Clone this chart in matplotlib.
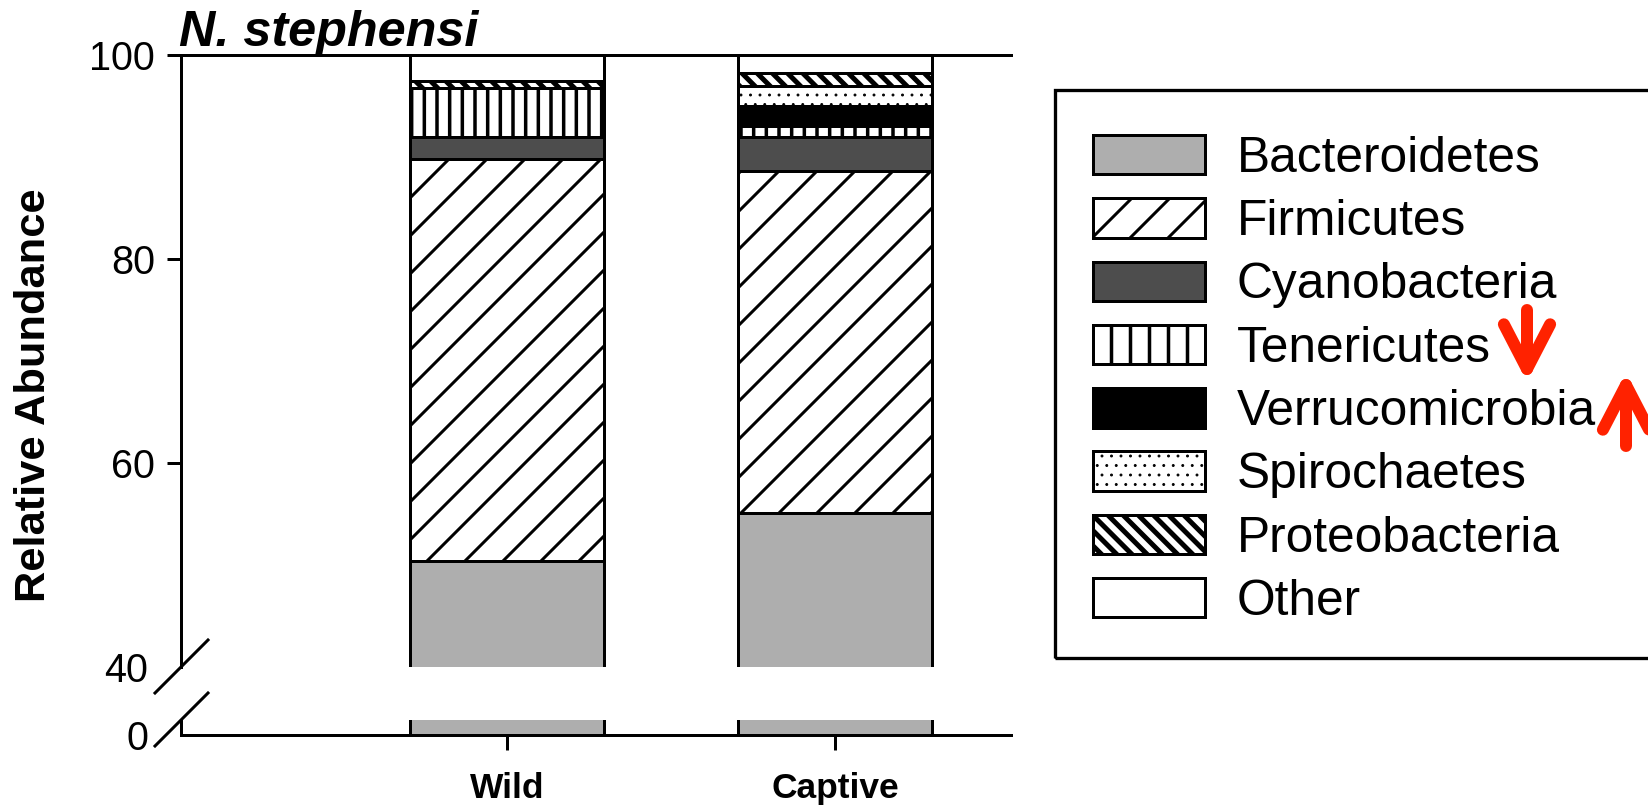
import numpy as np
import matplotlib
matplotlib.use("Agg")
import matplotlib.pyplot as plt
from matplotlib.patches import Rectangle
from matplotlib.lines import Line2D

# ---- data -------------------------------------------------------------
groups = ["Wild", "Captive"]
phyla = ["Bacteroidetes", "Firmicutes", "Cyanobacteria", "Tenericutes",
         "Verrucomicrobia", "Spirochaetes", "Proteobacteria", "Other"]

bacteroidetes = [50.4, 55.1]
firmicutes = [39.4, 33.5]
cyanobacteria = [2.2, 3.4]
tenericutes = [4.8, 1.0]
verrucomicrobia = [0.0, 2.0]
spirochaetes = [0.0, 2.0]
proteobacteria = [0.7, 1.2]
other = [2.5, 1.8]

series = [bacteroidetes, firmicutes, cyanobacteria, tenericutes,
          verrucomicrobia, spirochaetes, proteobacteria, other]

top_ticks = [40, 60, 80, 100]
bottom_ticks = [0]

# ---- styling ------------------------------------------------------------
D = 228                      # dots per inch (sets hatch spacing)
W, H = 1648, 806
PT = 72.0 / D                # points per pixel

# (face colour, bar hatch, legend hatch, hatch line width in pixels)
styles = [
    ("#aeaeae", None, None, 1.0),
    ("white", "//", "//", 3.0),
    ("#4d4d4d", None, None, 1.0),
    ("white", "|||", "||", 3.5),
    ("black", None, None, 1.0),
    ("white", "....", "....", 1.0),
    ("white", "\\" * 5, "\\" * 5, 5.0),
    ("white", None, None, 1.0),
]

plt.rcParams["font.family"] = ["Liberation Sans", "DejaVu Sans"]
plt.rcParams["hatch.color"] = "black"

fig = plt.figure(figsize=(W / D, H / D), dpi=D)


def fx(px):
    return px / W


def fy(py):
    return 1.0 - py / H


x_left, x_right = 181, 1011
ax_top = fig.add_axes([fx(x_left), fy(667), (x_right - x_left) / W, (667 - 55) / H])
ax_bot = fig.add_axes([fx(x_left), fy(735), (x_right - x_left) / W, (735 - 720) / H])

x = np.arange(len(groups))
bar_w = 0.594
edge_lw = 3.0 * PT


def set_hlw(patch, hlw):
    if hasattr(patch, "set_hatch_linewidth"):
        patch.set_hatch_linewidth(hlw * PT)


for ax in (ax_top, ax_bot):
    bottom = np.zeros(len(groups))
    for vals, (fc, hatch, _, hlw), name in zip(series, styles, phyla):
        vals = np.asarray(vals, dtype=float)
        with plt.rc_context({"hatch.linewidth": hlw * PT}):
            bars = ax.bar(x, vals, bar_w, bottom=bottom, color=fc,
                          edgecolor="black", linewidth=edge_lw,
                          hatch=hatch, label=name)
        for b in bars:
            set_hlw(b, hlw)
        bottom = bottom + vals

xlim = (-0.994, 1.537)
for ax in (ax_top, ax_bot):
    ax.set_xlim(*xlim)
    ax.spines["right"].set_visible(False)
    for s in ax.spines.values():
        s.set_linewidth(edge_lw)

ax_top.set_ylim(40, 100)
ax_bot.set_ylim(0, 15 / 10.2)

ax_top.spines["bottom"].set_visible(False)
ax_bot.spines["top"].set_visible(False)

tick_kw = dict(direction="out", length=14 * PT, width=edge_lw, pad=12 * PT,
               labelsize=12.5)
ax_top.set_yticks(top_ticks)
ax_top.set_yticklabels([str(t) for t in top_ticks])
ax_top.tick_params(axis="y", **tick_kw)
ax_top.tick_params(axis="x", bottom=False, labelbottom=False)

ax_bot.set_yticks(bottom_ticks)
ax_bot.set_yticklabels([str(t) for t in bottom_ticks])
ax_bot.tick_params(axis="y", **tick_kw)

# the labels at the break carry no tick mark
for tk in (ax_top.yaxis.get_major_ticks()[0], ax_bot.yaxis.get_major_ticks()[0]):
    tk.tick1line.set_visible(False)
    tk.set_pad(19 * PT)

ax_bot.set_xticks(x)
ax_bot.set_xticklabels(groups, fontsize=11.2, fontweight="bold")
ax_bot.tick_params(axis="x", direction="out", length=15 * PT, width=edge_lw,
                   pad=22 * PT)

# axis label and title
ax_top.set_ylabel("Relative Abundance", fontsize=13.7, fontweight="bold")
ax_top.yaxis.label.set_va("center")
ax_top.yaxis.set_label_coords((34 - x_left) / (x_right - x_left),
                              1 - (395 - 55) / (667 - 55))

fig.text(fx(179), fy(46), "N. stephensi", fontsize=15.9, fontweight="bold",
         fontstyle="italic", ha="left", va="baseline")

# axis-break slashes
for (x0, y0, x1, y1) in [(155, 693, 208, 640), (155, 746, 208, 693)]:
    fig.add_artist(Line2D([fx(x0), fx(x1)], [fy(y0), fy(y1)],
                          color="black", lw=edge_lw,
                          transform=fig.transFigure))

# legend with its own frame
fig.add_artist(Rectangle((fx(1055), fy(658)), (1700 - 1055) / W, (658 - 90) / H,
                         fill=False, edgecolor="black", lw=edge_lw * 1.1,
                         transform=fig.transFigure))

proxies = []
for (fc, _, lhatch, hlw) in styles:
    with plt.rc_context({"hatch.linewidth": hlw * PT}):
        p = Rectangle((0, 0), 1, 1, facecolor=fc, edgecolor="black",
                      linewidth=edge_lw, hatch=lhatch)
    set_hlw(p, hlw)
    proxies.append(p)

leg = ax_top.legend(proxies, phyla, loc="upper left",
                    bbox_to_anchor=(fx(1093), fy(135)),
                    bbox_transform=fig.transFigure, frameon=False,
                    borderpad=0, borderaxespad=0, handlelength=2.25,
                    handleheight=0.84, handletextpad=0.64, labelspacing=0.33,
                    prop={"size": 15.7})
for lh, (_, _, _, hlw) in zip(leg.legend_handles, styles):
    set_hlw(lh, hlw)
    lh.set_linewidth(edge_lw)

# red trend arrows beside the legend entries
arrow_kw = dict(arrowstyle="->,head_length=14.1,head_width=7.3",
                mutation_scale=1, color="#ff2200", lw=12 * PT,
                shrinkA=0, shrinkB=0)
ax_top.annotate("", xy=(1527, H - 382), xytext=(1527, H - 310),
                xycoords="figure pixels", textcoords="figure pixels",
                arrowprops=arrow_kw, annotation_clip=False)
ax_top.annotate("", xy=(1626, H - 372), xytext=(1626, H - 446),
                xycoords="figure pixels", textcoords="figure pixels",
                arrowprops=arrow_kw, annotation_clip=False)

fig.savefig("out.png", dpi=D)
